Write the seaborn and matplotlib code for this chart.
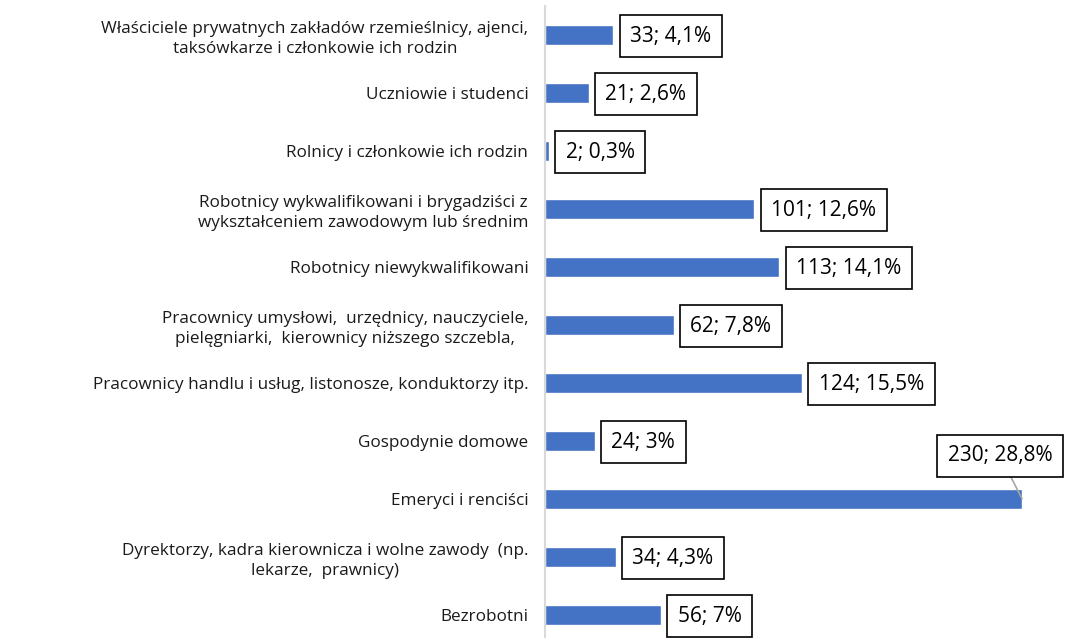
import pandas as pd
import matplotlib.pyplot as plt
import seaborn as sns

# dane
categories = [
    'Właściciele prywatnych zakładów rzemieślnicy, ajenci,\ntaksówkarze i członkowie ich rodzin',
    'Uczniowie i studenci',
    'Rolnicy i członkowie ich rodzin',
    'Robotnicy wykwalifikowani i brygadziści z\nwykształceniem zawodowym lub średnim',
    'Robotnicy niewykwalifikowani',
    'Pracownicy umysłowi,  urzędnicy, nauczyciele,\npielęgniarki,  kierownicy niższego szczebla,',
    'Pracownicy handlu i usług, listonosze, konduktorzy itp.',
    'Gospodynie domowe',
    'Emeryci i renciści',
    'Dyrektorzy, kadra kierownicza i wolne zawody  (np.\nlekarze,  prawnicy)',
    'Bezrobotni',
]
counts = [33, 21, 2, 101, 113, 62, 124, 24, 230, 34, 56]
percents = ['4,1%', '2,6%', '0,3%', '12,6%', '14,1%', '7,8%', '15,5%', '3%', '28,8%', '4,3%', '7%']

df = pd.DataFrame({'kategoria': categories, 'liczba': counts})

sns.set_style('white')
plt.rcParams['font.family'] = ['Open Sans', 'DejaVu Sans']

fig = plt.figure(figsize=(10.65, 6.38), dpi=100)
ax = fig.add_axes([545 / 1065, -0.009, 520 / 1065, 1.0])

sns.barplot(data=df, y='kategoria', x='liczba', orient='h', color='#4472C4',
            saturation=1, width=0.35, ax=ax)

ax.set_xlim(0, 250.7)
ax.set_ylim(10.5, -0.5)
ax.set_xlabel('')
ax.set_ylabel('')
ax.set_xticks([])
ax.tick_params(axis='y', length=0, pad=12, labelsize=12.3, labelcolor='#1a1a1a')
for t in ax.get_yticklabels():
    t.set_multialignment('center')
    t.set_linespacing(1.35)

for s in ['top', 'right', 'bottom']:
    ax.spines[s].set_visible(False)
ax.spines['left'].set_color('#d9d9d9')
ax.spines['left'].set_linewidth(1.5)

box = dict(boxstyle='square,pad=0.5', fc='white', ec='black', lw=1.2)
for i, (c, p) in enumerate(zip(counts, percents)):
    txt = f'{c}; {p}'
    if c == max(counts):
        ax.annotate(txt, xy=(c, i), xytext=(-16, 31), textcoords='offset points',
                    ha='center', va='center', fontsize=15, color='black', bbox=box,
                    annotation_clip=False,
                    arrowprops=dict(arrowstyle='-', color='#a6a6a6', lw=1.2,
                                    shrinkA=0, shrinkB=0))
    else:
        ax.annotate(txt, xy=(c, i), xytext=(12, -1), textcoords='offset points',
                    ha='left', va='center', fontsize=15, color='black', bbox=box)

fig.savefig('out.png', dpi=100)
